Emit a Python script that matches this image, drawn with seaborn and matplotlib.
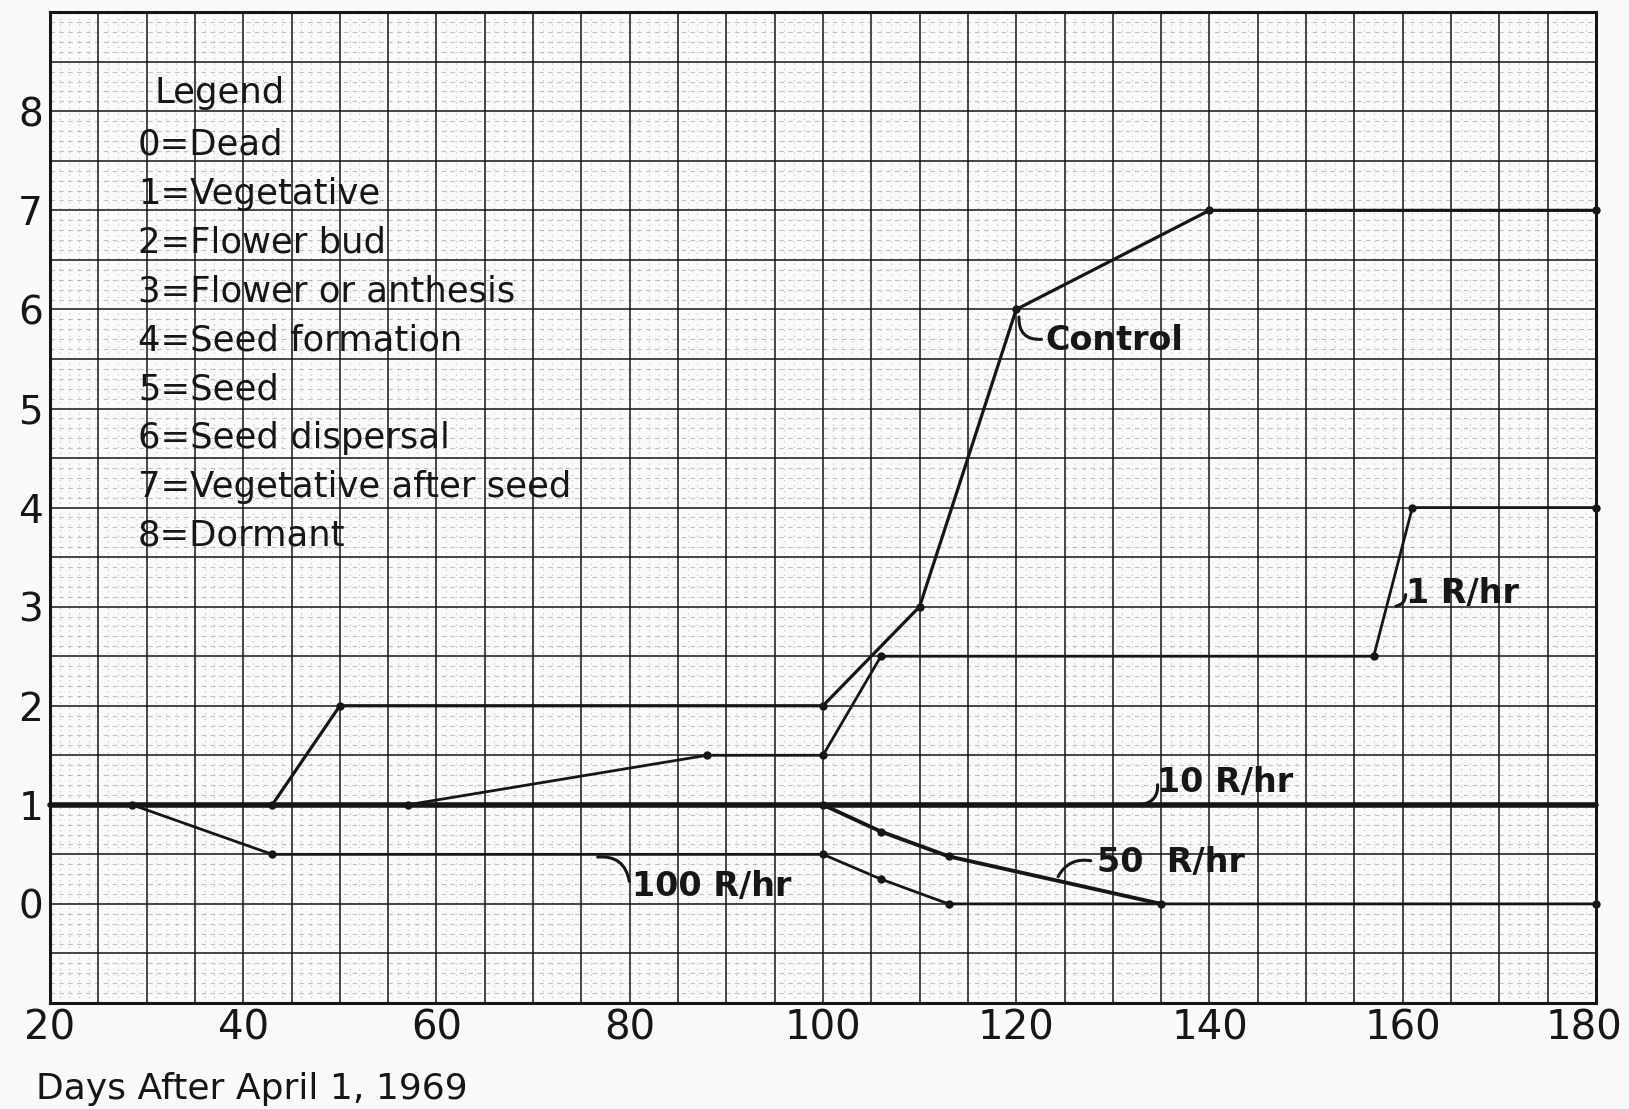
import matplotlib
matplotlib.use("Agg")
import matplotlib.pyplot as plt
import matplotlib.transforms as mtransforms
import seaborn as sns
import pandas as pd
from matplotlib.ticker import MultipleLocator, FuncFormatter

# ---- data ----
control_days = [43, 50, 100, 110, 120, 140, 180]
control_stage = [1, 2, 2, 3, 6, 7, 7]
r1_days = [57, 88, 100, 106, 157, 161, 180]
r1_stage = [1, 1.5, 1.5, 2.5, 2.5, 4, 4]
r10_days = [20, 180]
r10_stage = [1, 1]
r50_days = [100, 106, 113, 135]
r50_stage = [1, 0.73, 0.48, 0]
r100_days = [28.5, 43, 100, 106, 113, 180]
r100_stage = [1, 0.5, 0.5, 0.25, 0, 0]

series_names = ["Control", "1 R/hr", "10 R/hr", "50 R/hr", "100 R/hr"]

legend_title = "Legend"
legend_lines = ["0=Dead", "1=Vegetative", "2=Flower bud", "3=Flower or anthesis",
                "4=Seed formation", "5=Seed", "6=Seed dispersal",
                "7=Vegetative after seed", "8=Dormant"]
x_tick_labels = [20, 40, 60, 80, 100, 120, 140, 160, 180]
y_tick_labels = [0, 1, 2, 3, 4, 5, 6, 7, 8]
x_title = "Days After April 1, 1969"

df = pd.concat([
    pd.DataFrame({"day": control_days, "stage": control_stage, "series": series_names[0]}),
    pd.DataFrame({"day": r1_days, "stage": r1_stage, "series": series_names[1]}),
    pd.DataFrame({"day": r10_days, "stage": r10_stage, "series": series_names[2]}),
    pd.DataFrame({"day": r50_days, "stage": r50_stage, "series": series_names[3]}),
    pd.DataFrame({"day": r100_days, "stage": r100_stage, "series": series_names[4]}),
], ignore_index=True)

sns.set_theme(style="white")
plt.rcParams["font.family"] = ["DejaVu Sans"]

INK = "#161616"
PAPER = "#fafaf8"

fig = plt.figure(figsize=(16.29, 11.09), dpi=100, facecolor=PAPER)
ax = fig.add_axes([0.0307, 0.0956, 0.9490, 0.8934])
ax.set_facecolor(PAPER)

ax.set_xlim(20, 180)
ax.set_ylim(-1, 9)

# graph-paper grid
ax.xaxis.set_major_locator(MultipleLocator(5))
ax.xaxis.set_minor_locator(MultipleLocator(1))
ax.yaxis.set_major_locator(MultipleLocator(0.5))
ax.yaxis.set_minor_locator(MultipleLocator(0.1))
ax.xaxis.set_major_formatter(FuncFormatter(
    lambda v, p: f"{int(round(v))}" if int(round(v)) in x_tick_labels and abs(v - round(v)) < 1e-6 else ""))
ax.yaxis.set_major_formatter(FuncFormatter(
    lambda v, p: f"{int(round(v))}" if abs(v - round(v)) < 1e-6 and int(round(v)) in y_tick_labels else ""))
ax.grid(which="major", color=INK, lw=1.3, alpha=0.85)
ax.grid(which="minor", axis="y", color="#555555", lw=0.8, ls=(0, (4, 4)), alpha=0.35)
ax.grid(which="minor", axis="x", color="#555555", lw=0.8, ls=(0, (1, 4)), alpha=0.35)
ax.set_axisbelow(True)
ax.tick_params(which="both", length=0)
ax.tick_params(axis="x", labelsize=29, pad=4, labelcolor=INK)
ax.tick_params(axis="y", labelsize=28, pad=5, labelcolor=INK)
for s in ax.spines.values():
    s.set_color(INK)
    s.set_linewidth(2.2)

# data lines
widths = {"Control": 2.3, "1 R/hr": 2.0, "10 R/hr": 4.0, "50 R/hr": 2.8, "100 R/hr": 2.0}
for name in series_names:
    sub = df[df["series"] == name]
    sns.lineplot(data=sub, x="day", y="stage", ax=ax, sort=False, estimator=None,
                 color=INK, lw=widths[name], marker="o" if name != "10 R/hr" else None,
                 markersize=6, markeredgewidth=0, legend=False, clip_on=False, zorder=5)

ax.set_xlabel("")
ax.set_ylabel("")

# keep the last x label inside the figure
fig.canvas.draw()
xlabels = [t for t in ax.get_xticklabels() if t.get_text()]
if xlabels:
    last = xlabels[-1]
    last.set_transform(last.get_transform() +
                       mtransforms.ScaledTranslation(-12 / 100, 0, fig.dpi_scale_trans))

# series labels with hooked leaders
lab_kw = dict(fontsize=24, fontweight="bold", color=INK, va="center", ha="left", zorder=6)
lead_kw = dict(arrowstyle="-", color=INK, lw=2.2)
ax.annotate("", xy=(120.3, 5.95), xytext=(122.9, 5.7),
            arrowprops=dict(connectionstyle="arc3,rad=-0.6", **lead_kw))
ax.text(123.0, 5.69, "Control", **lab_kw)
ax.annotate("", xy=(159.0, 3.0), xytext=(160.3, 3.15),
            arrowprops=dict(connectionstyle="arc3,rad=-0.5", **lead_kw))
ax.text(160.3, 3.13, "1 R/hr", **lab_kw)
ax.annotate("", xy=(132.8, 1.0), xytext=(134.6, 1.23),
            arrowprops=dict(connectionstyle="arc3,rad=-0.5", **lead_kw))
ax.text(134.6, 1.23, "10 R/hr", **lab_kw)
ax.annotate("", xy=(124.2, 0.25), xytext=(128.0, 0.43),
            arrowprops=dict(connectionstyle="arc3,rad=0.4", **lead_kw))
ax.text(128.4, 0.42, "50  R/hr", **lab_kw)
ax.annotate("", xy=(76.4, 0.47), xytext=(80.0, 0.2),
            arrowprops=dict(connectionstyle="arc3,rad=0.5", **lead_kw))
ax.text(80.2, 0.18, "100 R/hr", **lab_kw)

# stage legend written on the paper
leg_kw = dict(fontsize=25.5, color=INK, va="center", ha="left", zorder=6)
ax.text(30.8, 8.18, legend_title, **leg_kw)
for i, line in enumerate(legend_lines):
    ax.text(29.1, 7.66 - 0.493 * i, line, **leg_kw)

fig.text(0.022, 0.018, x_title, fontsize=26, color=INK, ha="left", va="center")

fig.savefig("out.png", dpi=100, facecolor=PAPER)
